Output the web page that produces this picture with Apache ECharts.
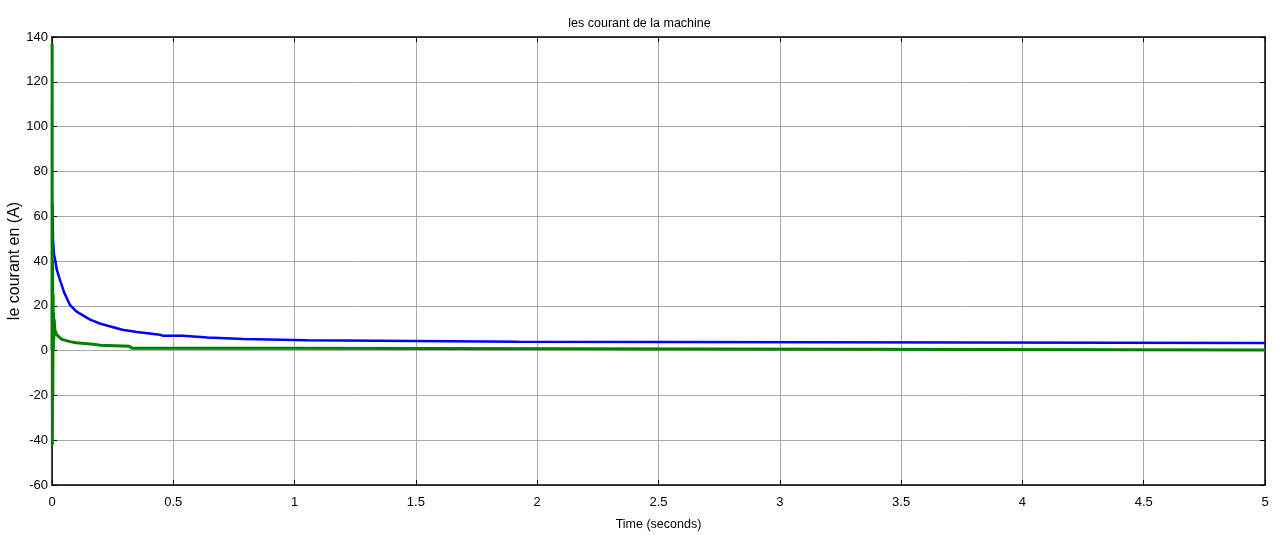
<!DOCTYPE html>
<html>
<head>
<meta charset="utf-8">
<title>les courant de la machine</title>
<script src="https://cdn.jsdelivr.net/npm/echarts@6/dist/echarts.min.js"></script>
<style>
    html, body { margin: 0; padding: 0; background: #fff; }
    #chart { width: 1279px; height: 535px; }
</style>
</head>
<body>
<div id="chart"></div>
<script>
    // courant 1 (bleu) : temps (s) et valeur (A)
    var timeBlue = [0.002, 0.004, 0.008, 0.012, 0.02, 0.033, 0.05, 0.074, 0.1, 0.157, 0.2, 0.29, 0.35, 0.445,
        0.457, 0.54, 0.54, 0.64, 0.64, 0.79, 0.79, 1.05, 1.05, 1.92, 1.92, 5];
    var currentBlue = [66, 50, 43, 41, 36, 31.5, 26, 20.4, 17.5, 13.8, 12, 9.3, 8.3, 7.1,
        6.6, 6.6, 5.8, 5.8, 5.2, 5.2, 4.6, 4.6, 4.0, 4.0, 3.4, 3.4];

    // courant 2 (vert)
    var timeGreen = [0, 0.0005, 0.0015, 0.0025, 0.0035, 0.0045, 0.0055, 0.0065, 0.0075, 0.009, 0.012,
        0.02, 0.04, 0.074, 0.1, 0.157, 0.2, 0.32, 0.33, 1.01, 1.01, 5];
    var currentGreen = [0, 137, -42, 40, -20, 25, 0, 17, 5, 14, 9,
        7, 5, 4, 3.5, 3.0, 2.4, 1.9, 1.0, 1.0, 0.3, 0.3];

    var xTicks = { min: 0, max: 5, interval: 0.5 };
    var yTicks = { min: -60, max: 140, interval: 20 };

    function pairs(t, v) {
        return t.map(function (x, i) { return [x, v[i]]; });
    }

    var font = '"Liberation Sans", Arial, sans-serif';
    var axisLine = { show: true, onZero: false, lineStyle: { color: '#000', width: 1.5 } };
    var tick = { show: true, inside: true, length: 5, lineStyle: { color: '#000' } };
    var grid = { show: true, lineStyle: { color: '#a8a8a8', width: 1 } };

    var chart = echarts.init(document.getElementById('chart'));
    chart.setOption({
        animation: false,
        backgroundColor: '#fff',
        title: {
            text: 'les courant de la machine',
            left: 'center',
            top: 12,
            textStyle: { fontFamily: font, fontSize: 12.5, fontWeight: 'normal', color: '#000' }
        },
        grid: { left: 52, right: 14, top: 37, bottom: 50, outerBoundsMode: 'none', containLabel: false },
        xAxis: [{
            type: 'value',
            min: xTicks.min, max: xTicks.max, interval: xTicks.interval,
            name: 'Time (seconds)',
            nameLocation: 'middle',
            nameGap: 33,
            nameTextStyle: { fontFamily: font, fontSize: 12.5, color: '#000' },
            axisLine: axisLine,
            axisTick: tick,
            axisLabel: { fontFamily: font, fontSize: 13, color: '#000', margin: 11 },
            splitLine: grid
        }, {
            type: 'value', position: 'top',
            min: xTicks.min, max: xTicks.max, interval: xTicks.interval,
            axisLine: axisLine,
            axisTick: tick,
            axisLabel: { show: false },
            splitLine: { show: false }
        }],
        yAxis: [{
            type: 'value',
            min: yTicks.min, max: yTicks.max, interval: yTicks.interval,
            name: 'le courant en (A)',
            nameLocation: 'middle',
            nameGap: 29,
            nameMoveOverlap: false,
            nameTextStyle: { fontFamily: font, fontSize: 16, color: '#000' },
            axisLine: axisLine,
            axisTick: tick,
            axisLabel: { fontFamily: font, fontSize: 13, color: '#000', margin: 4 },
            splitLine: grid
        }, {
            type: 'value', position: 'right',
            min: yTicks.min, max: yTicks.max, interval: yTicks.interval,
            axisLine: axisLine,
            axisTick: tick,
            axisLabel: { show: false },
            splitLine: { show: false }
        }],
        series: [{
            name: 'courant 1',
            type: 'line',
            showSymbol: false,
            data: pairs(timeBlue, currentBlue),
            lineStyle: { color: '#0000ff', width: 2.5 },
            itemStyle: { color: '#0000ff' }
        }, {
            name: 'courant 2',
            type: 'line',
            showSymbol: false,
            data: pairs(timeGreen, currentGreen),
            lineStyle: { color: '#008000', width: 3 },
            itemStyle: { color: '#008000' }
        }]
    });
</script>
</body>
</html>
